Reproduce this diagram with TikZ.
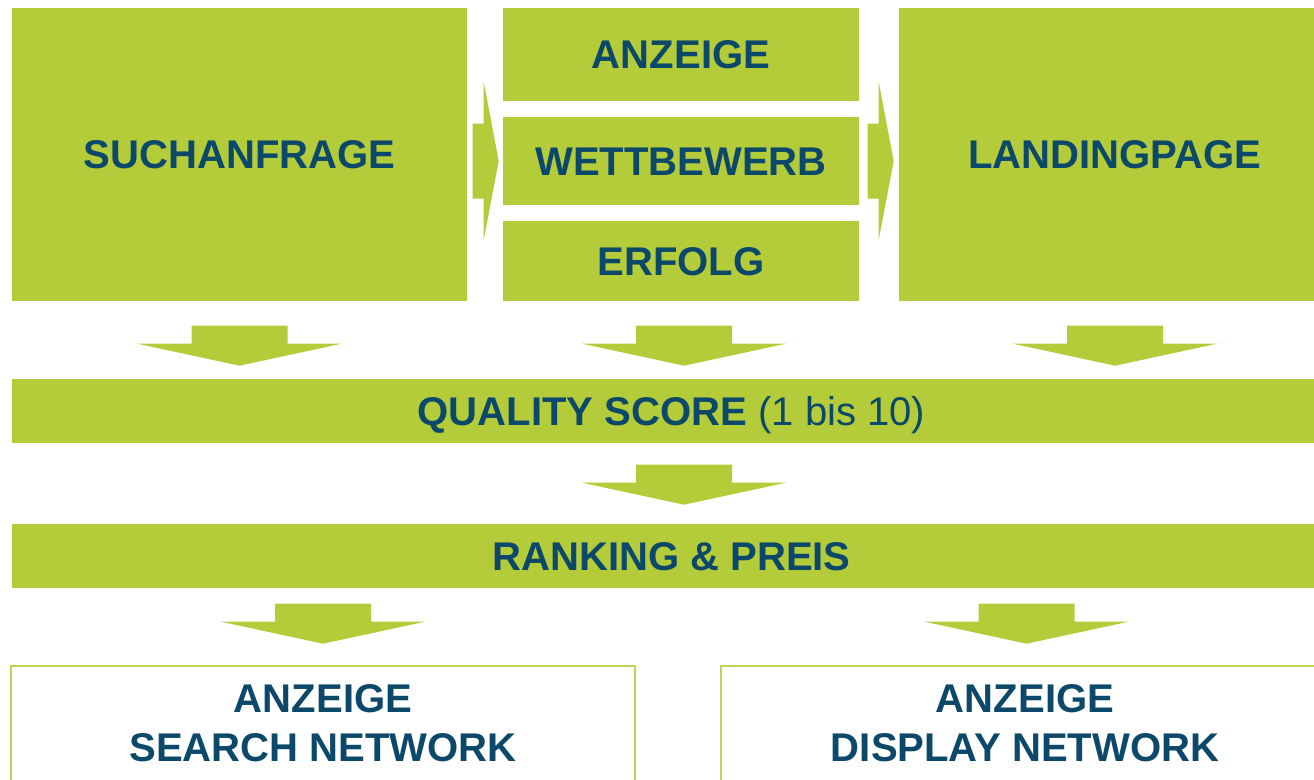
\documentclass[tikz,border=0pt]{standalone}
\usepackage{fontspec}
\setmainfont{Liberation Sans}
\usepackage{tikz}
\usetikzlibrary{calc}
\definecolor{qgreen}{RGB}{181,204,58}
\definecolor{qblue}{RGB}{12,72,106}

\begin{document}
\begin{tikzpicture}[y=-1cm,
  box/.style={fill=qgreen,text=qblue,inner sep=0pt,minimum width=#1,
    text height=8.2pt,text depth=0pt,font=\fontsize{11.4}{13.9}\selectfont\bfseries},
  box/.default=3.56cm,
  net/.style={text=qblue,inner sep=0pt,align=center,minimum width=#1,
    minimum height=1.12cm,font=\fontsize{11.4}{13.9}\selectfont\bfseries},
  frame/.style={draw=qgreen!85,line width=0.5pt},
  darrow/.pic={\fill[qgreen] (-0.48,0) -- (0.48,0) -- (0.48,0.18) -- (1.02,0.18)
    -- (0,0.40) -- (-1.02,0.18) -- (-0.48,0.18) -- cycle;},
  rarrow/.pic={\fill[qgreen] (0,-0.375) -- (0.11,-0.375) -- (0.11,-0.79) -- (0.26,0)
    -- (0.11,0.79) -- (0.11,0.375) -- (0,0.375) -- cycle;}
  ]
\useasboundingbox (0,0) rectangle (13.14,7.79);
\node[box=4.55cm,minimum height=2.93cm] (such) at (2.395,1.545) {SUCHANFRAGE};
\node[box,minimum height=0.93cm] (anz) at (6.81,0.545) {ANZEIGE};
\node[box,minimum height=0.88cm] (wett) at (6.81,1.61) {WETTBEWERB};
\node[box,minimum height=0.80cm] (erf) at (6.81,2.61) {ERFOLG};
\node[box=4.32cm,minimum height=2.93cm] (land) at (11.15,1.545) {LANDINGPAGE};
\node[box=13.19cm,minimum height=0.64cm] (qs) at (6.715,4.11) {QUALITY SCORE \mdseries(1 bis 10)};
\node[box=13.19cm,minimum height=0.64cm] (rank) at (6.715,5.56) {RANKING \& PREIS};
\node[net=6.22cm] (sn) at (3.23,7.23) {ANZEIGE\\SEARCH NETWORK};
\node[net=6.06cm] (dn) at (10.25,7.23) {ANZEIGE\\DISPLAY NETWORK};
\draw[frame] (sn.south west) |- (sn.north east) -- (sn.south east);
\draw[frame] (dn.south west) |- (dn.north east);
\pic at ($(such.east |- wett.center)+(0.05,0)$) {rarrow};
\pic at ($(wett.east)+(0.08,0)$) {rarrow};
\pic at ($(such.south)+(0,0.24)$) {darrow};
\pic at ($(erf.south)+(0.03,0.24)$) {darrow};
\pic at ($(land.south)+(0,0.24)$) {darrow};
\pic at ($(erf.south |- qs.south)+(0.03,0.21)$) {darrow};
\pic at ($(sn.north |- rank.south)+(0,0.15)$) {darrow};
\pic at ($(dn.north |- rank.south)+(0.015,0.15)$) {darrow};
\end{tikzpicture}
\end{document}
